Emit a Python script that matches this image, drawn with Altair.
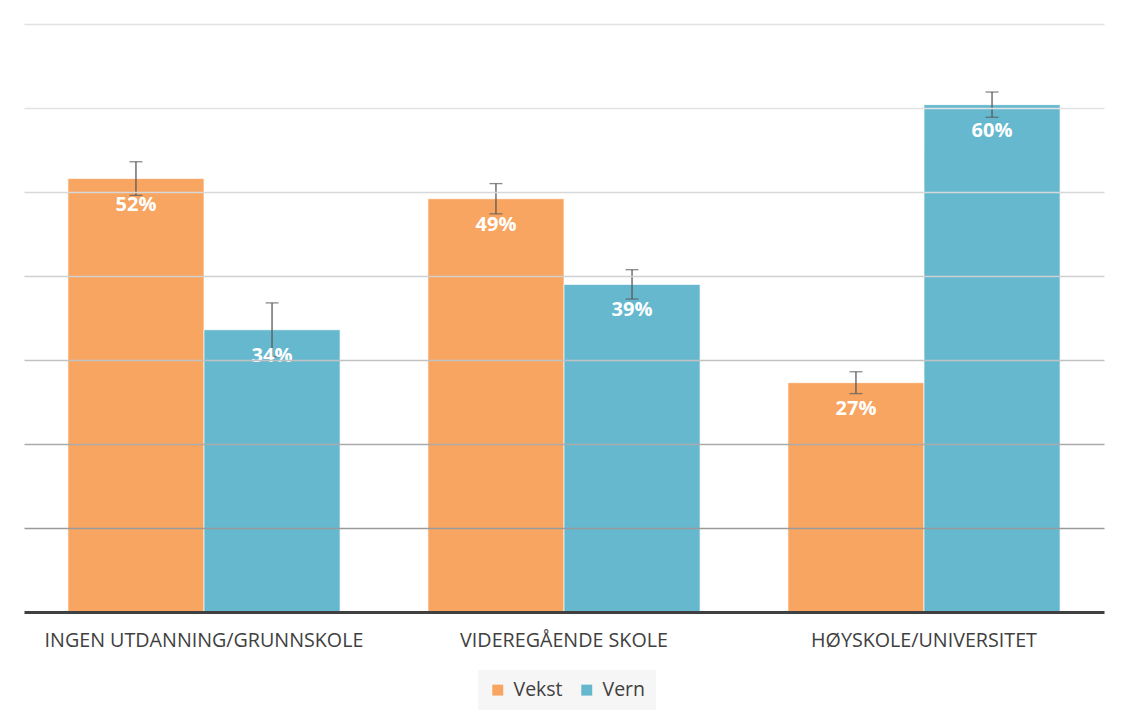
import altair as alt
import pandas as pd

categories = ["INGEN UTDANNING/GRUNNSKOLE", "VIDEREGÅENDE SKOLE", "HØYSKOLE/UNIVERSITET"]
series = ["Vekst", "Vern"]
vekst = [51.6, 49.2, 27.3]
vern = [33.6, 39.0, 60.4]
vekst_err = [2.0, 1.8, 1.3]
vern_err = [3.2, 1.75, 1.5]
colors = ["#F79646", "#4BACC6"]

rows = []
for i, c in enumerate(categories):
    for s, vals, errs in ((series[0], vekst, vekst_err), (series[1], vern, vern_err)):
        rows.append({"kategori": c, "serie": s, "verdi": vals[i],
                     "lo": vals[i] - errs[i], "hi": vals[i] + errs[i]})
df = pd.DataFrame(rows)

FONT = "Open Sans"

x_enc = alt.X("kategori:N", sort=categories, title=None,
              scale=alt.Scale(paddingInner=0.244, paddingOuter=0.122),
              axis=alt.Axis(labelAngle=0, labelFontSize=19.7, labelColor="#404040",
                            labelFont=FONT, labelPadding=18, labelLimit=0, ticks=False,
                            domainColor="#404040", domainWidth=3, grid=False, zindex=2))
xoff = alt.XOffset("serie:N", scale=alt.Scale(domain=series, paddingInner=0, paddingOuter=0))
y_scale = alt.Scale(domain=[0, 70], nice=False)

base = alt.Chart(df)

bars = base.mark_bar(opacity=0.85, stroke="white", strokeWidth=1, strokeOpacity=0.7).encode(
    x=x_enc,
    xOffset=xoff,
    y=alt.Y("verdi:Q", scale=y_scale, title=None,
            axis=alt.Axis(values=[10, 20, 30, 40, 50, 60, 70], labels=False, ticks=False,
                          domain=False, gridWidth=1.6, zindex=1,
                          gridColor={"condition": [
                              {"test": "datum.value <= 10", "value": "#9a9a9a"},
                              {"test": "datum.value <= 20", "value": "#ababab"},
                              {"test": "datum.value <= 30", "value": "#c2c2c2"},
                              {"test": "datum.value <= 40", "value": "#d0d0d0"},
                              {"test": "datum.value <= 50", "value": "#d8d8d8"},
                          ], "value": "#e2e2e2"})),
    color=alt.Color("serie:N", scale=alt.Scale(domain=series, range=colors), title=None,
                    legend=alt.Legend(orient="none", legendX=454, legendY=646, direction="horizontal",
                                      fillColor="#f6f6f6", padding=10, symbolType="square",
                                      symbolSize=120, symbolStrokeWidth=0, labelFontSize=19.5,
                                      labelFont=FONT, labelColor="#404040", labelOffset=6,
                                      columnPadding=14)),
)

err_rule = base.mark_rule(color="#595959", strokeWidth=1.3).encode(
    x=alt.X("kategori:N", sort=categories), xOffset=xoff,
    y=alt.Y("lo:Q", scale=y_scale), y2="hi:Q")
err_hi = base.mark_tick(color="#595959", thickness=1.3, size=13, orient="horizontal").encode(
    x=alt.X("kategori:N", sort=categories), xOffset=xoff, y=alt.Y("hi:Q", scale=y_scale))
err_lo = base.mark_tick(color="#595959", thickness=1.3, size=13, orient="horizontal").encode(
    x=alt.X("kategori:N", sort=categories), xOffset=xoff, y=alt.Y("lo:Q", scale=y_scale))

labels = base.transform_calculate(txt="format(datum.verdi, '.0f') + '%'").mark_text(
    color="white", fontWeight="bold", fontSize=20, font=FONT, baseline="middle", dy=26).encode(
    x=alt.X("kategori:N", sort=categories), xOffset=xoff,
    y=alt.Y("verdi:Q", scale=y_scale), text="txt:N")

chart = alt.layer(bars, err_rule, err_hi, err_lo, labels).properties(
    width=1080, height=588,
    background="white",
    autosize=alt.AutoSizeParams(type="none"),
    padding={"left": 16, "top": 16, "right": 16, "bottom": 100},
).configure_view(stroke=None, strokeWidth=0)

chart.save("out.html", embed_options={"renderer": "svg", "actions": False})
